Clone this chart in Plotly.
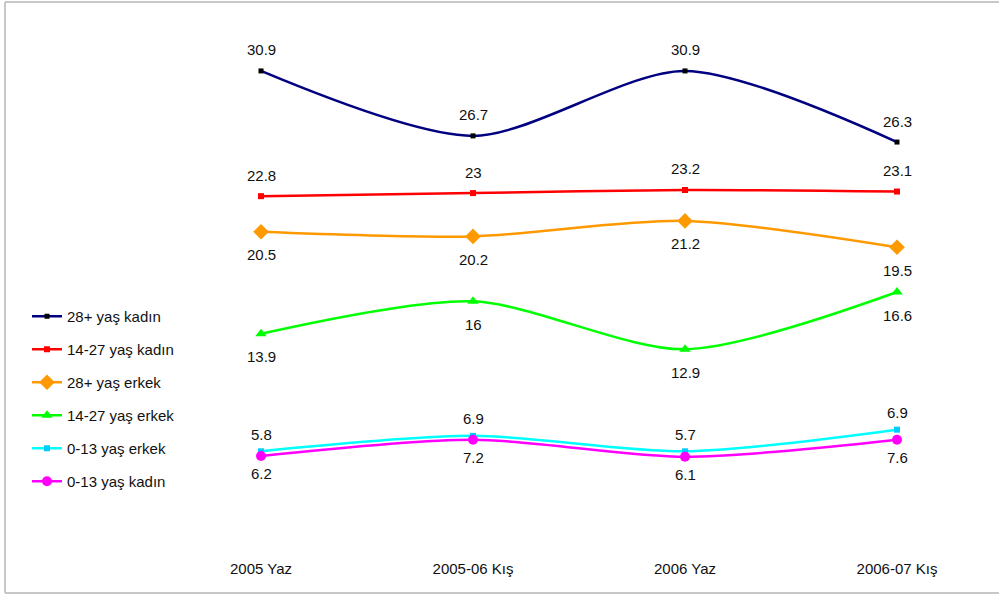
import plotly.graph_objects as go

categories = ["2005 Yaz", "2005-06 Kış", "2006 Yaz", "2006-07 Kış"]

kadin_28 = [30.9, 26.7, 30.9, 26.3]
kadin_14_27 = [22.8, 23.0, 23.2, 23.1]
erkek_28 = [20.5, 20.2, 21.2, 19.5]
erkek_14_27 = [13.9, 16.0, 12.9, 16.6]
erkek_0_13 = [5.8, 6.9, 5.7, 6.9]
kadin_0_13 = [6.2, 7.2, 6.1, 7.6]

# plotted positions of the two 0-13 lines
erkek_0_13_line = [6.3, 7.3, 6.3, 7.7]
kadin_0_13_line = [6.0, 7.05, 5.95, 7.05]

W, H = 999, 596
ML, MR, MT, MB = 208, 49, 23, 38
pw = W - ML - MR
ph = H - MT - MB

series = [
    ("28+ yaş kadın", kadin_28, kadin_28, "#000080", "square", 5, "#000000", 21),
    ("14-27 yaş kadın", kadin_14_27, kadin_14_27, "#FF0000", "square", 6, "#FF0000", 21),
    ("28+ yaş erkek", erkek_28, erkek_28, "#FF9900", "diamond", 12, "#FF9900", -23),
    ("14-27 yaş erkek", erkek_14_27, erkek_14_27, "#00FF00", "triangle-up", 10, "#00FF00", -23),
    ("0-13 yaş erkek", erkek_0_13_line, erkek_0_13, "#00FFFF", "square", 6, "#00CCFF", 17),
    ("0-13 yaş kadın", kadin_0_13_line, kadin_0_13, "#FF00FF", "circle", 10, "#FF00FF", -18),
]

FONT = "Liberation Sans, Arial"

fig = go.Figure()
annotations = []
for i, (name, ys, labels, color, sym, msize, mcol, shift) in enumerate(series):
    fig.add_trace(go.Scatter(
        x=categories, y=ys, name=name, mode="lines+markers",
        line=dict(color=color, width=2.5, shape="spline", smoothing=0.8),
        marker=dict(symbol=sym, size=msize, color=mcol),
        legendgroup=f"g{i}",
        hoverinfo="skip",
    ))
    for c, yv, lab in zip(categories, ys, labels):
        annotations.append(dict(
            x=c, y=yv, xref="x", yref="y", text=f"{lab:g}", showarrow=False,
            yshift=shift, font=dict(family=FONT, size=15, color="#111111"),
        ))

def px_x(p):
    return (p - ML) / pw

def px_y(p):
    return (MT + ph - p) / ph

border = dict(color="#C8C8C8", width=2)
shapes = [
    dict(type="line", xref="paper", yref="paper", x0=px_x(5), x1=px_x(1005), y0=px_y(2), y1=px_y(2), line=border, layer="below"),
    dict(type="line", xref="paper", yref="paper", x0=px_x(5), x1=px_x(5), y0=px_y(2), y1=px_y(593), line=border, layer="below"),
    dict(type="line", xref="paper", yref="paper", x0=px_x(5), x1=px_x(1005), y0=px_y(593), y1=px_y(593), line=border, layer="below"),
]

fig.update_layout(
    width=W, height=H,
    margin=dict(l=ML, r=MR, t=MT, b=MB),
    paper_bgcolor="white", plot_bgcolor="white",
    font=dict(family=FONT, size=15, color="#111111"),
    xaxis=dict(type="category", range=[-0.25, 3.25], showgrid=False, zeroline=False,
               showline=False, ticks="", tickfont=dict(size=15, color="#111111")),
    yaxis=dict(range=[-0.6, 34], showgrid=False, zeroline=False, showline=False,
               showticklabels=False, ticks=""),
    showlegend=True,
    legend=dict(x=px_x(27), xanchor="left", y=px_y(300), yanchor="top",
                tracegroupgap=10.5, font=dict(size=15, color="#111111"),
                bgcolor="rgba(0,0,0,0)", itemwidth=30),
    annotations=annotations,
    shapes=shapes,
)

fig.write_html("out.html", config={"displayModeBar": False},
               post_script="document.body.style.margin='0';")
